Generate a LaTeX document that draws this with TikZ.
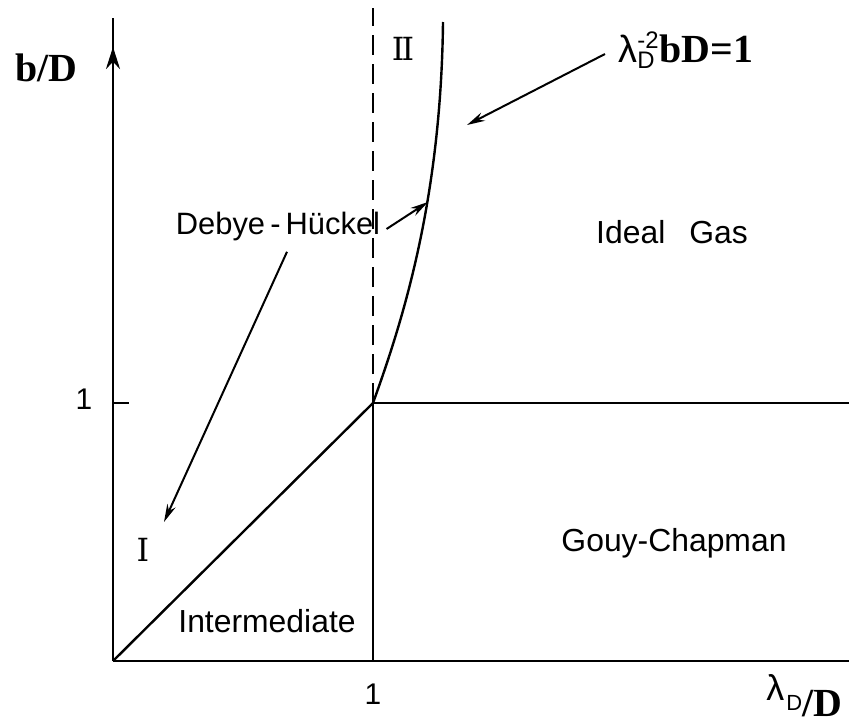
\documentclass[tikz,border=0pt]{standalone}
\usepackage{fontspec}
\setmainfont{Liberation Serif}
\setsansfont{Liberation Sans}
\newfontfamily\numfont{DejaVu Serif}
\usetikzlibrary{arrows.meta, calc}

\begin{document}
\begin{tikzpicture}[
      x=0.5bp, y=-0.5bp,
      axis/.style={line width=1.3bp, black},
      border/.style={line width=1.2bp, black},
      pointer/.style={-{Stealth[length=9bp, width=4.5bp]}, line width=1bp, black},
      region/.style={font=\sffamily\fontsize{16}{19}\selectfont, inner sep=0pt},
      ticklabel/.style={font=\sffamily\fontsize{15}{18}\selectfont, inner sep=0pt},
      numeral/.style={font=\numfont\fontsize{16}{19}\selectfont, inner sep=0pt},
      axlabel/.style={font=\rmfamily\bfseries\fontsize{20}{24}\selectfont, inner sep=0pt}
    ]
    \useasboundingbox (0,0) rectangle (849,720);

    % axes
    \coordinate (O)     at (113,661);
    \coordinate (ytop)  at (113,18);
    \coordinate (ytip)  at (113,47);
    \coordinate (xend)  at (852,661);
    \coordinate (P)     at (373,403);
    \coordinate (xone)  at (373,661);
    \coordinate (ytick) at (129,403);
    \coordinate (rend)  at (852,403);
    \coordinate (dtop)  at (373,8);
    \coordinate (ctop)  at (443,22);

    \draw[axis] (O) -- (ytop);
    \draw[axis, -{Stealth[length=11bp, width=7bp]}] (O) -- (ytip);
    \draw[axis] (O) -- (xend);
    \draw[border] (113,403) -- (ytick);

    % region borders
    \draw[border] (O) -- (P);
    \draw[border] (xone) -- (P) -- (rend);
    \draw[border, dash pattern=on 10bp off 4.5bp] (P) -- (dtop);
    \draw[border] (P) .. controls (403,320) and (441,200) .. (ctop);

    % tick labels
    \node[ticklabel] (one-y) at (84,399) {1};
    \node[ticklabel] (one-x) at (373,694) {1};

    % axis labels
    \node[axlabel, anchor=base west] (ylab) at (15,82) {b/D};
    \node[anchor=base west, inner sep=0pt] (xlab) at (766,700)
      {\sffamily\fontsize{18}{21}\selectfont λ\kern1bp\raisebox{-5bp}{\fontsize{11}{13}\selectfont D}%
       \rmfamily\bfseries\fontsize{20}{24}\selectfont\raisebox{-8bp}{/D}};

    % region labels
    \node[numeral] (roman1)  at (143,550) {I};
    \node[numeral] (roman2)  at (403,49)  {I\kern-1.5bpI};
    \node[region]  (ideal)   at (672,232) {Ideal\hspace{0.75em}Gas};
    \node[region]  (gouy)    at (674,543) {Gouy-Chapman};
    \node[region]  (inter)   at (267,621) {Intermediate};
    \node[region, font=\sffamily\fontsize{15.5}{19}\selectfont]
                   (debye)   at (278,227) {Debye\,-\,Hückel};

    % curve label
    \node[anchor=base west, inner sep=0pt] (eqn) at (618,62)
      {\sffamily\fontsize{19}{22}\selectfont λ%
       \rlap{\raisebox{7bp}{\fontsize{12}{14}\selectfont -2}}%
       \raisebox{-3bp}{\fontsize{12}{14}\selectfont D}\kern2.5bp%
       \rmfamily\bfseries\fontsize{20}{24}\selectfont bD=1};

    % pointers
    \coordinate (eqtail) at (605,54);
    \coordinate (eqtip)  at (467,125);
    \coordinate (dhtip)  at (428,202);
    \coordinate (itip)   at (164,522);
    \draw[pointer] (eqtail) -- (eqtip);
    \draw[pointer] ($(debye.east)+(6,2)$) -- (dhtip);
    \draw[pointer] ($(debye.south)+(9,10)$) -- (itip);
  \end{tikzpicture}
\end{document}
